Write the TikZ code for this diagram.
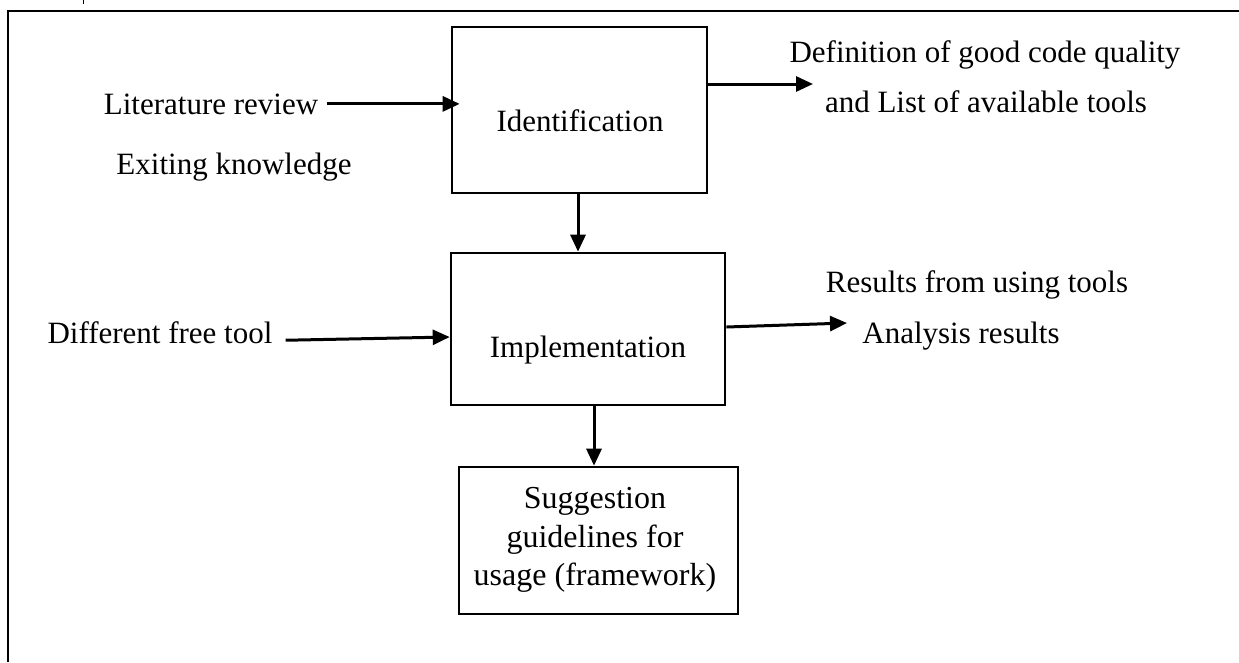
\documentclass[tikz,border=0pt]{standalone}
\usepackage{fontspec}
\setmainfont{Liberation Serif}
\usepackage{tikz}
\usetikzlibrary{positioning, arrows, arrows.meta}

\tikzset{
  procbox/.style={draw, line width=2.6pt, inner sep=0pt},
  lbl/.style={font=\fontsize{31}{46}\selectfont, inner sep=0pt, anchor=base},
  flow/.style={line width=3pt, -{Triangle[length=17pt, width=15pt]}},
}

\begin{document}
\begin{tikzpicture}[x=1pt, y=-1pt]
\useasboundingbox (0,0) rectangle (1239,662);
% --- frame ---
\draw[line width=2.6pt] (1239,11) -- (8,11) -- (8,662);
\draw[line width=1pt] (83,0) -- (83,4);

% --- boxes ---
\node[procbox, minimum width=255pt, minimum height=166pt] (ident) at (579.5,110) {};
\node[procbox, minimum width=274pt, minimum height=152pt] (impl) at (588,329) {};
\node[procbox, minimum width=279pt, minimum height=147pt] (suggest) at (598.5,540.5) {};

% --- box texts ---
\node[lbl] (identtxt) at (580,131) {Identification};
\node[lbl] (impltxt) at (588,357) {Implementation};
\node[lbl, font=\fontsize{32}{40}\selectfont] (sugg1) at (595,508) {Suggestion};
\node[lbl, font=\fontsize{32}{40}\selectfont] (sugg2) at (595,547) {guidelines for};
\node[lbl, font=\fontsize{32}{40}\selectfont] (sugg3) at (595,585) {usage (framework)};

% --- inputs ---
\node[lbl] (lit) at (211,114) {Literature review};
\node[lbl] (exist) at (234,174) {Exiting knowledge};
\node[lbl] (free) at (160,343) {Different free tool};

% --- outputs ---
\node[lbl] (defn1) at (985,62) {Definition of good code quality};
\node[lbl] (defn2) at (986,112) {and List of available tools};
\node[lbl] (res1) at (977,292) {Results from using tools};
\node[lbl] (res2) at (961,343) {Analysis results};

\coordinate (identout) at (813,84);
\coordinate (implout) at (847,323);

% --- arrows ---
\draw[flow] ([xshift=9pt]lit.east) -- ([xshift=9pt]lit.east -| ident.west);
\draw[flow] ([xshift=13pt, yshift=-8pt]free.east) -- ([yshift=-8pt]impl.west);
\draw[flow] ([yshift=26pt]ident.east) -- (identout);
\draw[flow] ([yshift=2pt]impl.east) -- (implout);
\draw[flow] ([xshift=-1.5pt]ident.south) -- ([xshift=-1.5pt]ident.south |- impl.north);
\draw[flow] ([xshift=6pt]impl.south) -- ([xshift=6pt]impl.south |- suggest.north);
\end{tikzpicture}
\end{document}
